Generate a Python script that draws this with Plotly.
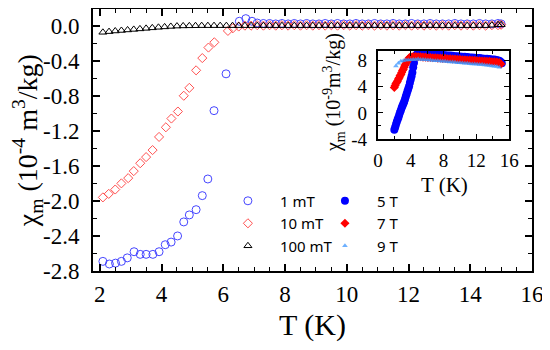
import plotly.graph_objects as go

# ---------------- data ----------------
# shared temperature grid of the flat high-T part (K)
T_FLAT = [7.1, 7.3, 7.5, 7.7, 7.9, 8.1, 8.3, 8.5, 8.7, 8.9, 9.1, 9.3, 9.5, 9.7, 9.9,
          10.1, 10.3, 10.5, 10.7, 10.9, 11.1, 11.3, 11.5, 11.7, 11.9, 12.1, 12.3, 12.5,
          12.7, 12.9, 13.1, 13.3, 13.5, 13.7, 13.9, 14.1, 14.3, 14.5, 14.7, 14.9, 15.0]

# 1 mT (open blue circles)
T_1mT_low = [2.10, 2.31, 2.51, 2.70, 2.89, 3.11, 3.31, 3.50, 3.72, 3.92, 4.12, 4.31, 4.52,
             4.72, 4.90, 5.12, 5.32, 5.50, 5.70, 6.09, 6.52, 6.73, 6.93]
chi_1mT_low = [-2.69, -2.72, -2.71, -2.69, -2.65, -2.58, -2.61, -2.61, -2.61, -2.58, -2.50,
               -2.47, -2.40, -2.24, -2.16, -2.10, -1.94, -1.75, -0.97, -0.55, 0.05, 0.08, 0.05]
chi_1mT_flat = [0.03, 0.025, 0.025, 0.02, 0.025, 0.02, 0.025, 0.02, 0.025, 0.02, 0.02, 0.025,
                0.02, 0.025, 0.02, 0.02, 0.025, 0.02, 0.02, 0.025, 0.02, 0.02, 0.025, 0.02,
                0.02, 0.025, 0.02, 0.02, 0.025, 0.02, 0.02, 0.02, 0.025, 0.02, 0.02, 0.02,
                0.025, 0.02, 0.02, 0.025, 0.02]

# 10 mT (open red diamonds)
T_10mT_low = [2.10, 2.29, 2.50, 2.70, 2.92, 3.10, 3.31, 3.50, 3.71, 3.92, 4.14, 4.32, 4.53,
              4.72, 4.90, 5.12, 5.32, 5.52, 5.71, 6.15, 6.31, 6.5, 6.7, 6.9]
chi_10mT_low = [-1.96, -1.92, -1.87, -1.80, -1.74, -1.66, -1.57, -1.50, -1.42, -1.27, -1.16,
                -1.06, -0.98, -0.80, -0.71, -0.51, -0.37, -0.25, -0.19, -0.06, -0.03, -0.01,
                0.0, 0.0]
chi_10mT_flat = [0.005, 0.0, 0.005, 0.0, 0.005, 0.0, 0.005, 0.0, 0.005, 0.0, 0.005, 0.0,
                 0.005, 0.0, 0.005, 0.0, 0.005, 0.0, 0.005, 0.0, 0.005, 0.0, 0.005, 0.0,
                 0.005, 0.0, 0.005, 0.0, 0.005, 0.0, 0.005, 0.0, 0.005, 0.0, 0.005, 0.0,
                 0.005, 0.0, 0.005, 0.005, 0.01]

# 100 mT (open black triangles)
T_100mT_low = [2.1, 2.3, 2.5, 2.7, 2.9, 3.1, 3.3, 3.5, 3.7, 3.9, 4.1, 4.3, 4.5, 4.7, 4.9,
               5.1, 5.3, 5.5, 5.7, 5.9, 6.1, 6.3, 6.5, 6.7, 6.9]
chi_100mT_low = [-0.076, -0.068, -0.061, -0.055, -0.049, -0.043, -0.037, -0.031, -0.025,
                 -0.019, -0.014, -0.009, -0.005, -0.003, -0.002, -0.001, 0.0, 0.0, 0.0,
                 0.0, 0.0, 0.0, 0.0, 0.0, 0.0]
chi_100mT_flat = [0.0, 0.0, 0.0, 0.0, 0.0, 0.0, 0.0, 0.0, 0.0, 0.0, 0.0, 0.0, 0.0, 0.0,
                  0.0, 0.0, 0.0, 0.0, 0.0, 0.0, 0.0, 0.0, 0.0, 0.0, 0.0, 0.0, 0.0, 0.0,
                  0.0, 0.0, 0.0, 0.0, 0.0, 0.0, 0.0, 0.0, 0.0, 0.0, 0.005, 0.01, 0.01]

# inset: 5 T (filled blue circles), units 1e-9 m3/kg
T_5T = [2.0, 2.1, 2.2, 2.3, 2.4, 2.5, 2.6, 2.7, 2.8, 2.9, 3.0, 3.1, 3.2, 3.3, 3.4, 3.5,
        3.6, 3.7, 3.8, 3.9, 4.0, 4.1, 4.2, 4.3, 4.4, 4.5, 4.7, 4.9, 5.1, 5.3, 5.5, 5.8,
        6.1, 6.4, 6.7, 7.0, 7.3, 7.6, 7.9, 8.2, 8.5, 8.8, 9.1, 9.4, 9.7, 10.0, 10.3,
        10.6, 10.9, 11.2, 11.5, 11.8, 12.1, 12.4, 12.7, 13.0, 13.3, 13.6, 13.9, 14.2,
        14.5, 14.8, 15.0, 15.1]
chi_5T = [-2.6, -2.2, -1.8, -1.4, -1.0, -0.7, -0.3, 0.1, 0.4, 0.8, 1.1, 1.4, 1.7, 2.1,
          2.5, 2.9, 3.3, 3.7, 4.1, 4.6, 5.1, 5.6, 6.2, 7.0, 7.7, 8.5, 8.9, 9.1, 9.2, 9.2,
          9.15, 9.1, 9.1, 9.05, 9.0, 9.0, 8.95, 8.9, 8.9, 8.85, 8.8, 8.8, 8.75, 8.7, 8.7,
          8.65, 8.6, 8.6, 8.55, 8.5, 8.5, 8.45, 8.4, 8.4, 8.35, 8.3, 8.3, 8.25, 8.2, 8.2,
          8.1, 8.0, 7.8, 7.6]

# inset: 7 T (filled red diamonds)
T_7T = [2.0, 2.1, 2.2, 2.3, 2.4, 2.5, 2.6, 2.7, 2.8, 2.9, 3.0, 3.1, 3.2, 3.3, 3.4, 3.5,
        3.6, 3.7, 3.8, 3.9, 4.0, 4.3, 4.6, 4.9, 5.2, 5.5, 5.8, 6.1, 6.4, 6.7, 7.0, 7.3,
        7.6, 7.9, 8.2, 8.5, 8.8, 9.1, 9.4, 9.7, 10.0, 10.3, 10.6, 10.9, 11.2, 11.5, 11.8,
        12.1, 12.4, 12.7, 13.0, 13.3, 13.6, 13.9, 14.2, 14.5, 14.8, 15.0]
chi_7T = [3.9, 4.2, 4.5, 4.7, 4.9, 5.2, 5.4, 5.7, 5.9, 6.2, 6.5, 6.7, 7.0, 7.3, 7.5, 7.8,
          8.0, 8.2, 8.4, 8.5, 8.6, 8.65, 8.65, 8.6, 8.6, 8.55, 8.55, 8.5, 8.5, 8.45, 8.45,
          8.4, 8.4, 8.35, 8.35, 8.3, 8.3, 8.25, 8.25, 8.2, 8.2, 8.15, 8.15, 8.1, 8.1,
          8.05, 8.05, 8.0, 8.0, 7.95, 7.95, 7.9, 7.9, 7.85, 7.85, 7.8, 7.7, 7.5]

# inset: 9 T (small light-blue triangles)
T_9T = [2.2, 2.5, 2.8, 3.1, 3.4, 3.7, 4.0, 4.3, 4.6, 4.9, 5.2, 5.5, 5.8, 6.1, 6.4, 6.7,
        7.0, 7.3, 7.6, 7.9, 8.2, 8.5, 8.8, 9.1, 9.4, 9.7, 10.0, 10.3, 10.6, 10.9, 11.2,
        11.5, 11.8, 12.1, 12.4, 12.7, 13.0, 13.3, 13.6, 13.9, 14.2, 14.5, 14.8]
chi_9T = [7.2, 7.6, 7.9, 8.0, 8.1, 8.1, 8.15, 8.2, 8.2, 8.25, 8.2, 8.2, 8.15, 8.1, 8.1,
          8.05, 8.0, 8.0, 7.95, 7.9, 7.9, 7.85, 7.8, 7.8, 7.75, 7.7, 7.7, 7.65, 7.6, 7.6,
          7.55, 7.5, 7.5, 7.45, 7.4, 7.4, 7.35, 7.3, 7.25, 7.2, 7.15, 7.1, 7.0]

# tick labels
X_TICKS = [2, 4, 6, 8, 10, 12, 14, 16]
Y_TICK_VALS = [0.0, -0.4, -0.8, -1.2, -1.6, -2.0, -2.4, -2.8]
Y_TICK_TEXT = ["0.0", "-0.4", "-0.8", "-1.2", "-1.6", "-2.0", "-2.4", "-2.8"]
IX_TICKS = [0, 4, 8, 12, 16]
IY_TICK_VALS = [-4, 0, 4, 8]
IY_TICK_TEXT = ["-4", "0", "4", "8"]

# ---------------- figure ----------------
SERIF = "Liberation Serif, Times New Roman, serif"
SANS = "Noto Sans, Open Sans, sans-serif"
BLUE_O = "rgb(70,70,255)"
RED_O = "rgb(255,80,80)"

fig = go.Figure()

fig.add_trace(go.Scatter(
    x=T_1mT_low + T_FLAT, y=chi_1mT_low + chi_1mT_flat, mode="markers", name="1 mT",
    legend="legend", legendgroup="a",
    marker=dict(symbol="circle-open", size=8, color=BLUE_O, line=dict(width=1, color=BLUE_O)),
    xaxis="x", yaxis="y"))
fig.add_trace(go.Scatter(
    x=T_10mT_low + T_FLAT, y=chi_10mT_low + chi_10mT_flat, mode="markers", name="10 mT",
    legend="legend", legendgroup="b",
    marker=dict(symbol="diamond-open", size=7, color=RED_O, line=dict(width=1, color=RED_O)),
    xaxis="x", yaxis="y"))
fig.add_trace(go.Scatter(
    x=T_100mT_low + T_FLAT, y=chi_100mT_low + chi_100mT_flat, mode="markers", name="100 mT",
    legend="legend", legendgroup="c",
    marker=dict(symbol="triangle-up-open", size=7, color="black", line=dict(width=1, color="black")),
    xaxis="x", yaxis="y"))

fig.add_trace(go.Scatter(
    x=T_5T, y=chi_5T, mode="markers", name="5 T", legend="legend2", legendgroup="d",
    marker=dict(symbol="circle", size=8, color="#0000ff"), xaxis="x2", yaxis="y2"))
fig.add_trace(go.Scatter(
    x=T_7T, y=chi_7T, mode="markers", name="7 T", legend="legend2", legendgroup="e",
    marker=dict(symbol="diamond", size=7, color="#ff0000"), xaxis="x2", yaxis="y2"))
fig.add_trace(go.Scatter(
    x=T_9T, y=chi_9T, mode="markers", name="9 T", legend="legend2", legendgroup="f",
    marker=dict(symbol="triangle-up", size=5, color="rgba(60,150,255,0.75)"),
    xaxis="x2", yaxis="y2"))

axis_common = dict(showline=True, linewidth=2, linecolor="black", mirror="ticks",
                   ticks="inside", tickcolor="black", showgrid=False, zeroline=False,
                   automargin=False)

legend_common = dict(xanchor="left", yanchor="top", bgcolor="rgba(0,0,0,0)",
                     font=dict(family=SANS, size=15, color="black"), traceorder="grouped",
                     tracegroupgap=0, itemsizing="trace", itemwidth=54)

# the page body adds an 8 px offset; margins below compensate for it
fig.update_layout(
    width=550, height=350,
    margin=dict(l=85, r=26, t=1, b=87, autoexpand=False),
    paper_bgcolor="white", plot_bgcolor="white",
    xaxis=dict(domain=[0, 1], range=[1.78, 16], tickmode="array", tickvals=X_TICKS,
               ticklen=7, tickwidth=1.5, tickfont=dict(family=SERIF, size=23, color="black"),
               minor=dict(tickmode="linear", tick0=2, dtick=0.5, ticklen=4, tickwidth=1.2,
                          ticks="inside", tickcolor="black"),
               ticklabelstandoff=1, anchor="y", **axis_common),
    yaxis=dict(domain=[0, 1], range=[-2.8, 0.19], tickmode="array", tickvals=Y_TICK_VALS,
               ticktext=Y_TICK_TEXT, ticklen=7, tickwidth=1.5,
               tickfont=dict(family=SERIF, size=23, color="black"),
               minor=dict(tickmode="linear", tick0=0, dtick=0.2, ticklen=4, tickwidth=1.2,
                          ticks="inside", tickcolor="black"),
               ticklabelstandoff=7, anchor="x", **axis_common),
    xaxis2=dict(domain=[0.649, 0.948], range=[0, 16], tickmode="array", tickvals=IX_TICKS,
                ticklen=5, tickwidth=1.3, tickfont=dict(family=SERIF, size=19, color="black"),
                minor=dict(tickmode="linear", tick0=0, dtick=2, ticklen=3, tickwidth=1.2,
                           ticks="inside", tickcolor="black"),
                ticklabelstandoff=3, anchor="y2", **axis_common),
    yaxis2=dict(domain=[0.504, 0.840], range=[-4, 9.5], tickmode="array", tickvals=IY_TICK_VALS,
                ticktext=IY_TICK_TEXT, ticklen=5, tickwidth=1.3,
                tickfont=dict(family=SERIF, size=19, color="black"),
                minor=dict(tickmode="linear", tick0=0, dtick=2, ticklen=3, tickwidth=1.2,
                           ticks="inside", tickcolor="black"),
                ticklabelstandoff=5, anchor="x2", **axis_common),
    legend=dict(x=0.280, y=0.33, **legend_common),
    legend2=dict(x=0.501, y=0.33, **legend_common),
    annotations=[
        dict(text="T (K)", xref="paper", yref="paper", x=0.501, y=-0.206, showarrow=False,
             xanchor="center", yanchor="middle", font=dict(family=SERIF, size=30, color="black")),
        dict(text="χ<sub>m</sub> (10<sup>-4</sup> m<sup>3</sup>/kg)", xref="paper", yref="paper",
             x=-0.150, y=0.496, showarrow=False, textangle=-90, xanchor="center",
             yanchor="middle", font=dict(family=SERIF, size=28, color="black")),
        dict(text="T (K)", xref="paper", yref="paper", x=0.80, y=0.328, showarrow=False,
             xanchor="center", yanchor="middle", font=dict(family=SERIF, size=21, color="black")),
        dict(text="χ<sub>m</sub> (10<sup>-9</sup>m<sup>3</sup>/kg)", xref="paper", yref="paper",
             x=0.549, y=0.679, showarrow=False, textangle=-90, xanchor="center",
             yanchor="middle", font=dict(family=SERIF, size=20, color="black")),
    ],
)

fig.write_html("out.html")
